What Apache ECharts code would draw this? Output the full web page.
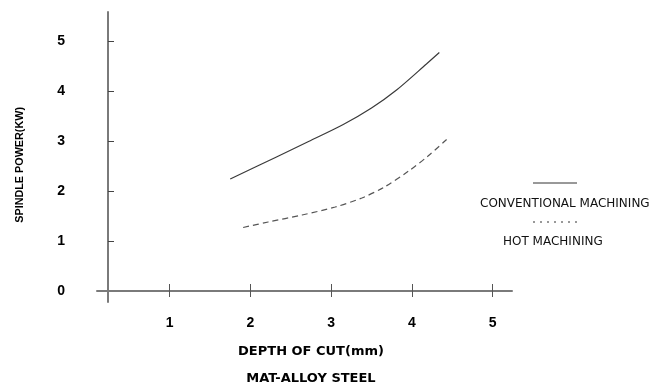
<!DOCTYPE html>
<html>
<head>
<meta charset="utf-8">
<script src="https://cdn.jsdelivr.net/npm/echarts@6/dist/echarts.min.js"></script>
<style>
html,body{margin:0;padding:0;background:#fff;}
#c{width:652px;height:386px;}
</style>
</head>
<body>
<div id="c"></div>
<script>
var convX = [1.75, 2.31, 2.72, 3.15, 3.50, 3.81, 4.18, 4.34];
var convY = [2.24, 2.67, 2.99, 3.33, 3.66, 4.02, 4.54, 4.77];
var hotX = [1.91, 2.22, 2.64, 3.05, 3.38, 3.66, 3.96, 4.20, 4.43];
var hotY = [1.27, 1.38, 1.52, 1.68, 1.86, 2.08, 2.40, 2.70, 3.03];
var xTicks = [1, 2, 3, 4, 5];
var yTicks = [0, 1, 2, 3, 4, 5];
var seriesNames = ['CONVENTIONAL MACHINING', 'HOT MACHINING'];

function pairs(xs, ys) { return xs.map(function (x, i) { return [x, ys[i]]; }); }

var chart = echarts.init(document.getElementById('c'), null, { renderer: 'canvas' });
var axisColor = '#7a7a7a';
var font = 'Liberation Sans, Arial, sans-serif';
var wide = 'DejaVu Sans, Verdana, sans-serif';
chart.setOption({
  animation: false,
  backgroundColor: '#fff',
  grid: { left: 97, right: 140, top: 12, bottom: 84 },
  xAxis: [{
    type: 'value', min: 0.1, max: 5.24, offset: -11,
    axisLine: { show: true, onZero: false, lineStyle: { color: axisColor, width: 2 } },
    axisTick: { show: true, customValues: xTicks, length: 6, lineStyle: { color: '#555', width: 1 } },
    axisLabel: { customValues: xTicks, margin: 25, color: '#000', fontWeight: 'bold', fontSize: 14, fontFamily: font },
    splitLine: { show: false }
  }, {
    type: 'value', min: 0.1, max: 5.24, offset: -11, position: 'bottom',
    axisLine: { show: false },
    axisTick: { show: true, inside: true, customValues: xTicks, length: 7, lineStyle: { color: '#555', width: 1 } },
    axisLabel: { show: false },
    splitLine: { show: false }
  }],
  yAxis: {
    type: 'value', min: -0.22, max: 5.58, offset: -11,
    axisLine: { show: true, onZero: false, lineStyle: { color: axisColor, width: 2 } },
    axisTick: { show: true, inside: true, customValues: [1, 2, 3, 4, 5], length: 6, lineStyle: { color: '#444', width: 1 } },
    axisLabel: { customValues: yTicks, margin: 43, color: '#000', fontWeight: 'bold', fontSize: 14, fontFamily: font },
    splitLine: { show: false }
  },
  series: [{
    name: seriesNames[0], type: 'line', smooth: 0.3, symbol: 'none',
    data: pairs(convX, convY),
    lineStyle: { color: '#3a3a3a', width: 1.2, type: 'solid' }
  }, {
    name: seriesNames[1], type: 'line', smooth: 0.3, symbol: 'none',
    data: pairs(hotX, hotY),
    lineStyle: { color: '#555', width: 1.2, type: [6, 4] }
  }],
  graphic: [
    { type: 'text', left: 15, top: 107, rotation: Math.PI / 2, style: { text: 'SPINDLE POWER(KW)', fill: '#000', font: 'bold 10.8px ' + font } },
    { type: 'text', x: 311, y: 352, style: { text: 'DEPTH OF CUT(mm)', fill: '#000', font: 'bold 13px ' + wide, align: 'center', verticalAlign: 'middle' } },
    { type: 'text', x: 311, y: 379, style: { text: 'MAT-ALLOY STEEL', fill: '#000', font: 'bold 13px ' + wide, align: 'center', verticalAlign: 'middle' } },
    { type: 'line', shape: { x1: 533, y1: 183, x2: 577, y2: 183 }, style: { stroke: '#333', lineWidth: 1 } },
    { type: 'text', x: 480, y: 204, style: { text: seriesNames[0], fill: '#111', font: '12px ' + wide, verticalAlign: 'middle' } },
    { type: 'line', shape: { x1: 533, y1: 222, x2: 577, y2: 222 }, style: { stroke: '#333', lineWidth: 1, lineDash: [2, 5] } },
    { type: 'text', x: 503, y: 242, style: { text: seriesNames[1], fill: '#111', font: '12px ' + wide, verticalAlign: 'middle' } }
  ]
});
</script>
</body>
</html>
